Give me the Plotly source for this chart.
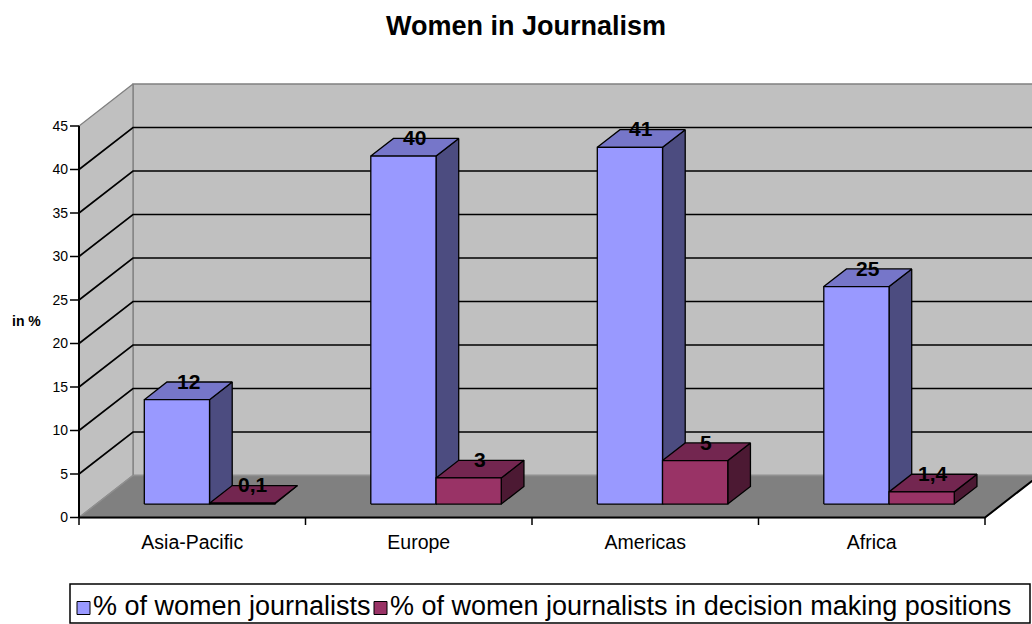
import plotly.graph_objects as go

# ---------------- data ----------------
categories = ["Asia-Pacific", "Europe", "Americas", "Africa"]
women_journalists = [12, 40, 41, 25]
decision_positions = [0.1, 3, 5, 1.4]
series_names = ["% of women journalists",
                "% of women journalists in decision making positions"]
y_ticks = [0, 5, 10, 15, 20, 25, 30, 35, 40, 45]

# ---------------- geometry / style ----------------
FONT = "Liberation Sans, Arial, sans-serif"
PX_X, PX_Y = 226.5, 8.7        # pixels per category / per value unit
X0, Y0 = 79, 517.5              # pixel of (0, 0)
L, R, T, B = 69, 1032, 78, 527  # plot area in pixels
W_PX, H_PX = 1032, 624

DX, DY = 54 / PX_X, 42 / PX_Y   # full depth of the 3D box in data units
F0, FD = 0.32, 0.42             # bar start depth and bar depth (fractions)
BW = 0.288                      # bar width in category units
YMAX = y_ticks[-1]
NCAT = len(categories)
XR = (R - X0) / PX_X

colors = [
    dict(front="#9999FF", top="#7676C9", side="#4C4C80"),
    dict(front="#993366", top="#732650", side="#4C1933"),
]


def px(xp):
    return (xp - L) / (R - L)


def py(yp):
    return (B - yp) / (B - T)


fig = go.Figure()


def poly(xs, ys, fill, line="black", lw=1.3):
    fig.add_trace(go.Scatter(
        x=list(xs) + [xs[0]], y=list(ys) + [ys[0]], mode="lines",
        fill="toself", fillcolor=fill, line=dict(color=line, width=lw),
        hoverinfo="skip", showlegend=False))


def lines(xs, ys, color, lw):
    fig.add_trace(go.Scatter(x=xs, y=ys, mode="lines",
                             line=dict(color=color, width=lw),
                             hoverinfo="skip", showlegend=False))


# walls and floor
poly([DX, XR + 1, XR + 1, DX], [DY, DY, YMAX + DY, YMAX + DY], "#C0C0C0", "#808080", 1.3)
poly([0, 0, DX, DX], [0, YMAX, YMAX + DY, DY], "#C0C0C0", "#808080", 1.3)
poly([0, NCAT, NCAT + DX, DX], [0, 0, DY, DY], "#808080", "#909090", 1.3)

# gridlines on the walls
gx, gy = [], []
for v in y_ticks[1:-1]:
    gx += [0, DX, XR + 1, None]
    gy += [v, v + DY, v + DY, None]
lines(gx, gy, "black", 1.7)

# axis lines
lines([0, 0], [0, YMAX], "black", 2)
lines([0, NCAT, NCAT + DX], [0, 0, DY], "black", 2)

# tick marks
tx, ty = [], []
for v in y_ticks:
    tx += [-9 / PX_X, 0, None]
    ty += [v, v, None]
for i in range(NCAT + 1):
    tx += [i, i, None]
    ty += [0, -7.5 / PX_Y, None]
lines(tx, ty, "black", 1.5)

# 3D bars
ann = []
sx0, sy0 = F0 * DX, F0 * DY
sx1, sy1 = (F0 + FD) * DX, (F0 + FD) * DY
for i in range(NCAT):
    c = i + 0.5
    for s, vals in enumerate([women_journalists, decision_positions]):
        v = vals[i]
        x0 = c - BW + s * BW
        x1 = x0 + BW
        col = colors[s]
        poly([x1 + sx0, x1 + sx1, x1 + sx1, x1 + sx0],
             [sy0, sy1, v + sy1, v + sy0], col["side"])
        poly([x0 + sx0, x1 + sx0, x1 + sx1, x0 + sx1],
             [v + sy0, v + sy0, v + sy1, v + sy1], col["top"])
        poly([x0 + sx0, x1 + sx0, x1 + sx0, x0 + sx0],
             [sy0, sy0, v + sy0, v + sy0], col["front"])
        txt = (f"{v:g}").replace(".", ",")
        ann.append(dict(x=(x0 + x1) / 2 + (sx0 + sx1) / 2, y=v + sy1 + 0.1,
                        xref="x", yref="y", text=txt, showarrow=False,
                        font=dict(family=FONT, size=21, color="black", weight="bold"),
                        xanchor="center", yanchor="middle"))

ann.append(dict(x=px(26), y=py(321), xref="paper", yref="paper",
                text="in %", showarrow=False, xanchor="center", yanchor="middle",
                font=dict(family=FONT, size=14, color="black", weight="bold")))

# ---------------- legend (drawn box, swatches and texts) ----------------
LEG_FONT = 27
LEG_T, LEG_B, LEG_L, LEG_R = 584, 623, 70, 1030
LEG_YC = 606
shapes = [dict(type="rect", xref="paper", yref="paper",
               x0=px(LEG_L), x1=px(LEG_R), y0=py(LEG_B), y1=py(LEG_T),
               line=dict(color="black", width=1.5), fillcolor="white", layer="above")]
swatch_x = [77, 374]
text_x = [(91, "left"), (388, "left")]
SW = 13
for s in range(2):
    shapes.append(dict(type="rect", xref="paper", yref="paper",
                       x0=px(swatch_x[s]), x1=px(swatch_x[s] + SW),
                       y0=py(LEG_YC + 2 + SW / 2), y1=py(LEG_YC + 2 - SW / 2),
                       line=dict(color="black", width=1),
                       fillcolor=colors[s]["front"], layer="above"))
    ann.append(dict(x=px(text_x[s][0]), y=py(LEG_YC), xref="paper", yref="paper",
                    text=series_names[s], showarrow=False, xanchor=text_x[s][1],
                    yanchor="middle",
                    font=dict(family=FONT, size=LEG_FONT, color="black")))

fig.update_layout(
    width=W_PX, height=H_PX,
    margin=dict(l=L, r=W_PX - R, t=T, b=H_PX - B, pad=0),
    paper_bgcolor="white", plot_bgcolor="rgba(0,0,0,0)",
    title=dict(text="<b>Women in Journalism</b>", x=526 / W_PX, xref="container",
               xanchor="center", y=1 - 26 / H_PX, yref="container", yanchor="middle",
               font=dict(family=FONT, size=27, color="black")),
    xaxis=dict(range=[(L - X0) / PX_X, XR], tickvals=[i + 0.5 for i in range(NCAT)],
               ticktext=categories, ticks="", showgrid=False, zeroline=False,
               showline=False, tickfont=dict(family=FONT, size=19.5, color="black"),
               ticklabelstandoff=1, fixedrange=True),
    yaxis=dict(range=[(Y0 - B) / PX_Y, (Y0 - T) / PX_Y], tickvals=y_ticks,
               ticktext=[str(v) for v in y_ticks], ticks="", showgrid=False,
               zeroline=False, showline=False,
               tickfont=dict(family=FONT, size=14, color="black"), fixedrange=True),
    showlegend=False,
    annotations=ann,
    shapes=shapes,
)

fig.write_html("out.html")
